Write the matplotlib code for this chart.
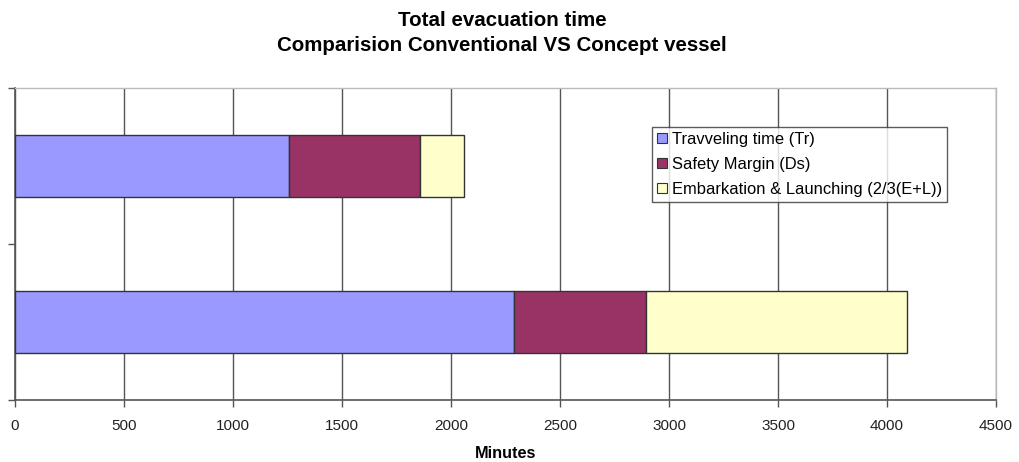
import matplotlib
matplotlib.use("Agg")
import matplotlib.pyplot as plt
import numpy as np

categories = ["Conventional", "Concept vessel"]
travel = [2289, 1255]
safety = [605, 603]
embark = [1198, 202]
series_labels = ["Travveling time (Tr)", "Safety Margin (Ds)", "Embarkation & Launching (2/3(E+L))"]
colors = ["#9999FF", "#993366", "#FFFFCC"]
xticks = [0, 500, 1000, 1500, 2000, 2500, 3000, 3500, 4000, 4500]

plt.rcParams['font.family'] = ['Liberation Sans', 'DejaVu Sans']

fig = plt.figure(figsize=(10.19, 4.62), dpi=100)
ax = fig.add_axes([15/1019, 62/462, (996-15)/1019, (400-88)/462])

y = np.arange(len(categories))
left = np.zeros(len(categories))
for vals, lab, c in zip([travel, safety, embark], series_labels, colors):
    ax.barh(y, vals, left=left, height=0.4, color=c, edgecolor="#333333",
            linewidth=1.0, label=lab, zorder=3)
    left += np.array(vals)

ax.set_xlim(0, 4500)
ax.set_ylim(-0.5, 1.5)
ax.set_xticks(xticks)
ax.set_xticklabels([str(v) for v in xticks], fontsize=11)
ax.set_yticks([-0.5, 0.5, 1.5])
ax.set_yticklabels([])
ax.tick_params(axis='both', direction='out', length=5, color="#555555", width=1)
ax.tick_params(axis='x', pad=9, labelcolor="#222222")
ax.grid(axis='x', color="#555555", linewidth=1.0, zorder=0)
for s in ['left', 'bottom']:
    ax.spines[s].set_color("#555555")
    ax.spines[s].set_linewidth(1.2)
for s in ['top', 'right']:
    ax.spines[s].set_color("#BBBBBB")
    ax.spines[s].set_linewidth(1.0)

ax.set_xlabel("Minutes", fontsize=11.7, fontweight='bold', labelpad=9)
fig.suptitle("Total evacuation time\nComparision Conventional VS Concept vessel",
             fontsize=14.8, fontweight='bold', y=1 - 11/462, x=502/1019, linespacing=1.4)

leg = ax.legend(loc='upper left', bbox_to_anchor=((652-15)/981, (400-127)/312),
                fontsize=11.9, frameon=True, fancybox=False, edgecolor="#333333",
                handlelength=0.6, handleheight=0.6, handletextpad=0.3,
                labelspacing=0.6, borderpad=0.3, borderaxespad=0)
leg.get_frame().set_linewidth(1.0)
for h in leg.legend_handles:
    h.set_linewidth(0.8)

fig.savefig("out.png", dpi=100)
